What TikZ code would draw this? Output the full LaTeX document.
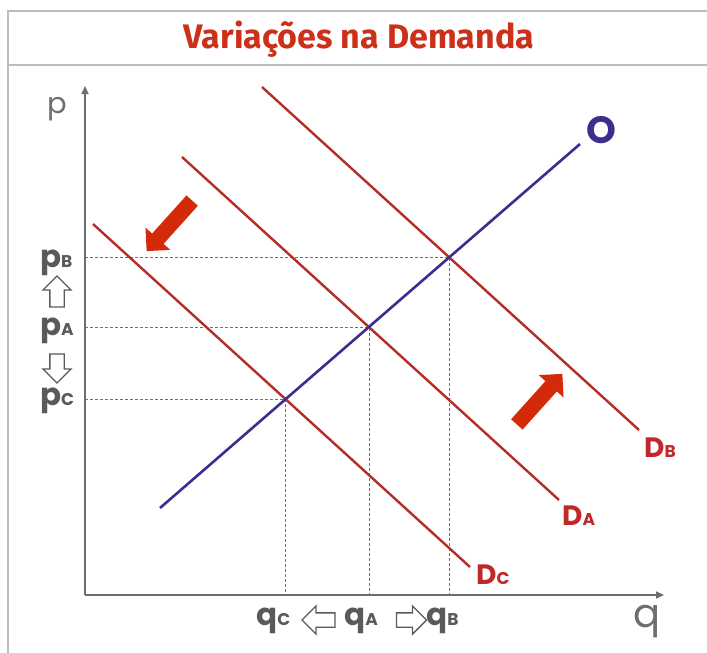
\documentclass[tikz,border=0pt]{standalone}
\usepackage{fontspec}
\setmainfont{Fira Sans}
\newfontfamily\titlefont{Fira Sans}
\newfontfamily\pop{Poppins}
\usetikzlibrary{arrows.meta,shapes.arrows}
\definecolor{framegray}{HTML}{BDBDBD}
\definecolor{titlered}{HTML}{CC3018}
\definecolor{dred}{HTML}{B52E26}
\definecolor{lred}{HTML}{C0282A}
\definecolor{arred}{HTML}{D42A0A}
\definecolor{sblue}{HTML}{3B2E8C}
\definecolor{axgray}{HTML}{6E6E6E}
\definecolor{labgray}{HTML}{5A5A5A}
\newcommand\sbx[1]{{\fontsize{17}{17}\selectfont #1}}
\tikzset{
  framelin/.style={draw=framegray, line width=2pt},
  axis/.style={draw=axgray, line width=1.6pt, -{Triangle[length=8pt,width=7pt]}},
  guide/.style={draw=axgray, line width=0.9pt, dash pattern=on 3pt off 2pt},
  demand/.style={draw=dred, line width=2.4pt},
  supply/.style={draw=sblue, line width=2.6pt},
  plab/.style={font=\pop\bfseries\fontsize{31}{31}\selectfont, text=labgray, inner sep=0pt},
  dlab/.style={font=\pop\bfseries\fontsize{28}{28}\selectfont, text=lred, inner sep=0pt, anchor=base west},
  axlab/.style={font=\pop\fontsize{29}{29}\selectfont, text=axgray, inner sep=0pt, anchor=base},
  hollow/.style={single arrow, draw=labgray, line width=1.3pt, fill=white, inner xsep=0pt, inner ysep=6.5pt, single arrow head extend=7pt},
  shiftarrow/.style={single arrow, fill=arred, inner xsep=0pt, inner ysep=7.5pt, single arrow head extend=9pt, minimum height=68pt}
}
\begin{document}
\begin{tikzpicture}[x=1pt,y=-1pt]
\useasboundingbox (0,0) rectangle (707,653);
\fill[white] (0,0) rectangle (707,653);
% frame
\coordinate (fTL) at (8,11);
\coordinate (fTR) at (707,11);
\coordinate (fBL) at (8,653);
\coordinate (sL) at (8,65);
\coordinate (sR) at (707,65);
\draw[framelin] (fBL) -- (fTL) -- (fTR);
\draw[framelin] (sL) -- (sR);
\node[font=\titlefont\bfseries\fontsize{34}{34}\selectfont, text=titlered] (title) at (359,39) {Variações na Demanda};
% axes
\coordinate (orig) at (85,595);
\coordinate (ytop) at (85,86);
\coordinate (xend) at (664,595);
\draw[axis] (orig) -- (ytop);
\draw[axis] (orig) -- (xend);
\node[axlab] (plabel) at (57,113) {p};
\node[axlab, font=\pop\fontsize{40}{40}\selectfont] (qlabel) at (647,627) {q};
% equilibrium points
\coordinate (eC) at (285,399);
\coordinate (eA) at (369,327);
\coordinate (eB) at (449,257);
\coordinate (yC) at (85,399);
\coordinate (yA) at (85,327);
\coordinate (yB) at (85,257);
\coordinate (xC) at (285,595);
\coordinate (xA) at (369,595);
\coordinate (xB) at (449,595);
\draw[guide] (yB) -- (eB) -- (xB);
\draw[guide] (yA) -- (eA) -- (xA);
\draw[guide] (yC) -- (eC) -- (xC);
% demand curves
\coordinate (dC1) at (93,224);
\coordinate (dC2) at (470,567);
\coordinate (dA1) at (182,157);
\coordinate (dA2) at (559,500);
\coordinate (dB1) at (262,87);
\coordinate (dB2) at (639,430);
\draw[demand] (dC1) -- (dC2);
\draw[demand] (dA1) -- (dA2);
\draw[demand] (dB1) -- (dB2);
% supply
\coordinate (s1) at (160,508);
\coordinate (s2) at (580,144);
\draw[supply] (s1) -- (s2);
\node[font=\pop\bfseries\fontsize{38}{38}\selectfont, text=sblue, inner sep=0pt] (olab) at (601,130) {O};
% demand labels
\node[dlab] (DB) at (644,457) {D\sbx{B}};
\node[dlab] (DA) at (562,525) {D\sbx{A}};
\node[dlab] (DC) at (476,584) {D\sbx{C}};
% price labels
\node[plab, anchor=base west] (pB) at (40,267) {p\sbx{B}};
\node[plab, anchor=base west] (pA) at (40,335) {p\sbx{A}};
\node[plab, anchor=base west] (pC) at (40,405) {p\sbx{C}};
\node[hollow, rotate=90, minimum height=31pt] (upar) at (57,295) {};
\node[hollow, rotate=-90, minimum height=29pt] (dnar) at (57,365) {};
% quantity labels
\node[plab, anchor=base west] (qC) at (256,625) {q\sbx{C}};
\node[plab, anchor=base west] (qA) at (344,625) {q\sbx{A}};
\node[plab, anchor=base west] (qB) at (426,625) {q\sbx{B}};
\node[hollow, rotate=180, minimum height=33pt] (lfar) at (322,620) {};
\node[hollow, minimum height=30pt] (rtar) at (408,620) {};
% shift arrows
\node[shiftarrow, rotate=48] (shup) at (537,402) {};
\node[shiftarrow, rotate=228] (shdn) at (172,223) {};
\end{tikzpicture}
\end{document}
